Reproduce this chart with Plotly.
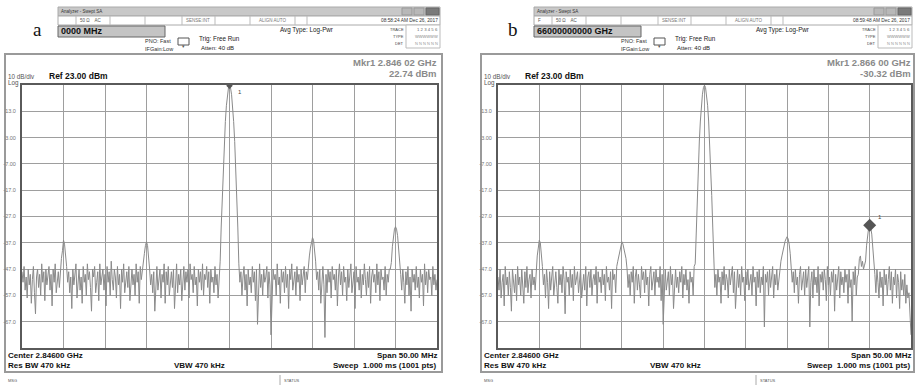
import plotly.graph_objects as go

W, H = 918, 385
SANS = "Liberation Sans, Arial, sans-serif"
SERIF = "Liberation Serif, Times New Roman, serif"

# ---------------- data ----------------
center_ghz = 2.846
offsets_mhz = [-25 + 0.125 * i for i in range(401)]
freq_ghz = [center_ghz + o / 1000 for o in offsets_mhz]

trace_a = [
    -48, -52, -46, -55, -50, -58, -47, -53, -49, -60, -51, -46, -56, -64, -50, -47, -54, -49, -57, -45,
    -52, -48, -59, -47, -53, -50, -46, -55, -49, -61, -47, -52, -45, -56, -50, -48, -54, -46, -43, -40,
    -36, -37.5, -41, -46, -52, -48, -56, -50, -62, -47, -53, -49, -45, -58, -51, -47, -55, -50, -60, -46,
    -52, -49, -57, -45, -51, -48, -54, -63, -47, -50, -46, -56, -52, -48, -59, -45, -53, -50, -47, -55,
    -49, -61, -46, -52, -48, -57, -44, -51, -55, -47, -50, -58, -46, -53, -49, -62, -47, -52, -45, -56,
    -50, -48, -54, -46, -59, -51, -47, -53, -49, -57, -45, -52, -48, -60, -46, -51, -47, -44, -41, -38,
    -36.6, -38, -42, -47, -53, -49, -56, -48, -63, -50, -46, -55, -51, -47, -58, -49, -52, -45, -60, -48,
    -53, -46, -57, -50, -48, -54, -47, -62, -51, -45, -56, -49, -53, -47, -59, -50, -46, -55, -48, -52,
    -47, -58, -45, -51, -49, -56, -46, -53, -50, -61, -47, -52, -48, -55, -45, -57, -49, -51, -46, -54,
    -48, -60, -47, -52, -50, -56, -46, -53, -49, -58, -51, -44, -31, -19, -7.8, 1.5, 9.1, 15.1, 19.3, 21.9,
    22.74,
    21.9, 19.3, 15.1, 9.1, 1.5, -7.8, -19, -31, -45, -52, -48, -57, -50, -46, -55, -49, -61, -47, -53,
    -50, -56, -46, -52, -48, -59, -47, -68, -51, -45, -54, -49, -57, -47, -52, -50, -46, -58, -48, -53,
    -72, -55, -47, -51, -49, -57, -45, -53, -50, -60, -47, -52, -48, -56, -46, -54, -49, -62, -47, -51,
    -45, -55, -50, -48, -57, -46, -52, -49, -59, -47, -53, -50, -46, -56, -48, -51, -45, -42, -39, -36.5,
    -35, -36, -39, -44, -51, -48, -55, -47, -60, -50, -46, -53, -73, -49, -56, -47, -52, -48, -58, -46,
    -51, -49, -55, -47, -61, -50, -45, -53, -48, -57, -46, -52, -50, -59, -47, -54, -49, -45, -56, -51,
    -48, -62, -46, -52, -50, -55, -47, -58, -49, -53, -45, -51, -57, -48, -54, -46, -60, -50, -47, -52,
    -49, -56, -45, -53, -48, -59, -47, -51, -50, -55, -46, -57, -49, -52, -47, -47, -44.5, -38.5, -34.3, -31.8,
    -30.9, -31.8, -34.3, -38.5, -44.5, -49, -55, -47, -52, -60, -48, -53, -46, -57, -50, -63, -47, -52, -49, -55,
    -46, -54, -50, -58, -47, -52, -49, -61, -45, -53, -48, -56, -47, -51, -50, -57, -46, -53, -49, -55,
    -51,
]

trace_b = [
    -50, -55, -47, -58, -52, -49, -61, -46, -53, -50, -57, -48, -54, -63, -47, -51, -56, -49, -59, -46,
    -53, -50, -57, -47, -52, -60, -48, -54, -46, -56, -51, -49, -58, -47, -53, -50, -55, -46, -42, -39,
    -36, -37, -41, -46, -53, -49, -58, -47, -52, -62, -48, -55, -50, -46, -57, -51, -48, -54, -60, -47,
    -53, -49, -56, -46, -51, -64, -48, -52, -50, -57, -47, -54, -49, -59, -46, -53, -51, -48, -56, -50,
    -47, -58, -52, -49, -55, -46, -61, -50, -48, -54, -47, -57, -51, -49, -53, -46, -60, -48, -52, -50,
    -56, -47, -53, -49, -59, -46, -52, -50, -55, -48, -62, -47, -51, -49, -56, -46, -44, -42, -40, -38,
    -36.6, -37.5, -39, -41, -43, -47, -54, -49, -57, -48, -52, -46, -60, -50, -47, -55, -49, -53, -58, -46,
    -51, -48, -56, -47, -53, -50, -61, -49, -46, -55, -51, -48, -57, -47, -52, -50, -54, -46, -59, -49,
    -68, -52, -47, -55, -50, -48, -57, -46, -53, -49, -62, -51, -47, -54, -50, -56, -48, -52, -46, -58,
    -49, -53, -47, -55, -51, -60, -48, -52, -50, -57, -46, -45, -31, -19, -7.6, 1.7, 9.3, 15.3, 19.5, 22.1,
    22.9,
    22.1, 19.5, 15.3, 9.3, 1.7, -7.6, -19, -31, -46, -54, -49, -57, -47, -52, -50, -60, -48, -53, -46,
    -55, -49, -51, -58, -47, -53, -50, -46, -56, -48, -62, -51, -47, -54, -49, -57, -46, -52, -50, -59,
    -48, -53, -47, -55, -51, -49, -57, -46, -52, -50, -61, -48, -54, -47, -56, -50, -53, -46, -69, -49,
    -52, -48, -57, -47, -54, -50, -46, -58, -49, -53, -47, -55, -51, -48, -44, -42, -40, -38, -36.5, -35.5,
    -34.7, -35.5, -37.5, -41, -46, -52, -48, -56, -47, -53, -50, -60, -49, -46, -55, -51, -48, -57, -47, -54,
    -50, -46, -69, -52, -48, -58, -47, -53, -50, -56, -46, -61, -49, -52, -48, -55, -47, -51, -59, -46,
    -53, -50, -57, -48, -52, -47, -63, -49, -55, -51, -46, -58, -48, -53, -50, -56, -47, -52, -49, -60,
    -47, -54, -51, -67, -48, -53, -46, -57, -50, -49, -43, -42, -46, -44, -47, -45.5, -43.9, -37.9, -33.7, -31.2,
    -30.32, -31.2, -33.7, -37.9, -43.9, -49, -56, -47, -52, -58, -48, -54, -50, -61, -47, -53, -49, -57, -51, -46,
    -55, -48, -60, -50, -53, -47, -58, -49, -52, -62, -48, -55, -51, -57, -49, -60, -53, -58, -56, -66,
    -72,
]
assert len(trace_a) == 401 and len(trace_b) == 401

y_tick_vals = [13, 3, -7, -17, -27, -37, -47, -57, -67]
y_tick_text = ["13.0", "3.00", "-7.00", "-17.0", "-27.0", "-37.0", "-47.0", "-57.0", "-67.0"]
x_grid_ghz = [2.826, 2.831, 2.836, 2.841, 2.846, 2.851, 2.856, 2.861, 2.866]

panel_labels = ["a", "b"]
freq_boxes = ["0000 MHz", "66000000000 GHz"]
timestamps = ["08:58:24 AM Dec 26, 2017", "08:59:48 AM Dec 26, 2017"]
marker_freq = ["Mkr1 2.846 02 GHz", "Mkr1 2.866 00 GHz"]
marker_level = ["22.74 dBm", "-30.32 dBm"]
marker_x = [2.846, 2.866]
marker_y = [22.74, -30.32]
status_first = ["", "F"]

# ---------------- figure ----------------
fig = go.Figure()
annotations = []
shapes = []


def px(x):
    return x / W


def py(y):
    return 1 - y / H


def txt(x, y, s, size, color="#222", anchor="left", family=SANS, yanchor="middle"):
    annotations.append(dict(x=px(x), y=py(y), xref="paper", yref="paper", text=s,
                            showarrow=False, xanchor=anchor, yanchor=yanchor,
                            font=dict(size=size, color=color, family=family),
                            borderpad=0))


def rect(x0, y0, x1, y1, fill="rgba(0,0,0,0)", line="#888", lw=1):
    shapes.append(dict(type="rect", xref="paper", yref="paper",
                       x0=px(x0), x1=px(x1), y0=py(y1), y1=py(y0),
                       fillcolor=fill, line=dict(color=line, width=lw), layer="below"))


def vline(x, y0, y1, color="#888", lw=1):
    shapes.append(dict(type="line", xref="paper", yref="paper",
                       x0=px(x), x1=px(x), y0=py(y0), y1=py(y1),
                       line=dict(color=color, width=lw)))


plot_x = [(22, 437), (498, 911)]
plot_top, plot_bot = 85, 348
frames = [(5, 442), (481, 914)]
offsets = [0, 476]
traces = [trace_a, trace_b]

for k in range(2):
    dx = offsets[k]
    L, R = frames[k]
    xa = "x" if k == 0 else "x2"
    ya = "y" if k == 0 else "y2"
    fig.add_trace(go.Scatter(x=freq_ghz, y=traces[k], mode="lines",
                             line=dict(color="#8a8a8a", width=1),
                             xaxis=xa, yaxis=ya, showlegend=False, hoverinfo="skip"))
    fig.add_trace(go.Scatter(x=[marker_x[k]], y=[marker_y[k]], mode="markers",
                             marker=dict(symbol="diamond", size=10 if k == 1 else 5,
                                         color="#555"),
                             xaxis=xa, yaxis=ya, showlegend=False, hoverinfo="skip"))
    label_dy = 3 if k == 1 else -2.5
    annotations.append(dict(x=marker_x[k] + 0.0008, y=marker_y[k] + label_dy, xref=xa, yref=ya,
                            text="1", showarrow=False, xanchor="left",
                            font=dict(size=6, color="#444", family=SANS)))

    # panel letter
    txt(37 + dx, 29, panel_labels[k], 19, "#111", "center", SERIF)
    # title bar
    rect(58 + dx, 7, R - 2, 16, "#c8c8c8", "#aaaaaa")
    txt(60 + dx, 11.5, "Analyzer - Swept SA", 4.5, "#333")
    rect(R - 40, 8, R - 30, 15, "#b8b8b8", "#999")
    rect(R - 28, 8, R - 18, 15, "#b8b8b8", "#999")
    rect(R - 16, 8, R - 3, 15, "#7a7a7a", "#666")
    # status row
    rect(58 + dx, 16, R - 2, 25, "#ffffff", "#aaaaaa")
    for sx in [76, 110, 145, 182, 215, 250, 295, 307]:
        vline(sx + dx, 16, 25, "#bbbbbb")
    if status_first[k]:
        txt(61 + dx, 20.5, status_first[k], 4.5, "#555")
    txt(79 + dx, 20.5, "50 \u03a9&nbsp;&nbsp;&nbsp;&nbsp;AC", 4.5, "#555")
    txt(198 + dx, 20.5, "SENSE:INT", 4.5, "#777", "center")
    txt(272 + dx, 20.5, "ALIGN AUTO", 4.5, "#777", "center")
    txt(R - 3, 20.5, timestamps[k], 4.8, "#333", "right")
    # frequency box
    rect(58 + dx, 26, 165 + dx, 37, "#c4c4c4", "#666", 1)
    txt(60 + dx, 31.5, "<b>" + freq_boxes[k] + "</b>", 9, "#111")
    # PNO / IF gain
    txt(172 + dx, 41, "PNO: Fast", 5.5, "#333", "right")
    txt(174 + dx, 49, "IFGain:Low", 5.5, "#333", "right")
    rect(178 + dx, 38, 189 + dx, 45, "#ffffff", "#555", 1)
    txt(183.5 + dx, 46.5, "\u25be", 5, "#555", "center")
    txt(198 + dx, 39.5, "Trig: Free Run", 6.3, "#222")
    txt(200 + dx, 48.5, "Atten: 40 dB", 6, "#222")
    txt(279 + dx, 30, "Avg Type: Log-Pwr", 6.3, "#222")
    # trace block
    rect(R - 36, 25, R - 2, 48, "#ffffff", "#bbbbbb")
    txt(R - 37, 29, "TRACE", 4, "#444", "right")
    txt(R - 37, 36.5, "TYPE", 4, "#444", "right")
    txt(R - 37, 43.5, "DET", 4, "#444", "right")
    txt(R - 3, 29, "1&nbsp;2&nbsp;3&nbsp;4&nbsp;5&nbsp;6", 4.3, "#666", "right")
    txt(R - 3, 36.5, "WWWWWW", 4, "#888", "right")
    txt(R - 3, 43.5, "N&nbsp;N&nbsp;N&nbsp;N&nbsp;N&nbsp;N", 4, "#999", "right")
    # main frame
    rect(L, 54, R, 372, "rgba(0,0,0,0)", "#9a9a9a", 2)
    txt(L + 2, 76.5, "10 dB/div", 6.3, "#555")
    txt(L + 2, 82.5, "Log", 6.3, "#555")
    txt(48 + dx, 76, "<b>Ref 23.00 dBm</b>", 8.5, "#111")
    px_right = plot_x[k][1]
    txt(px_right + 1, 62, "<b>" + marker_freq[k] + "</b>", 9.5, "#8a8a8a", "right")
    txt(px_right + 1, 73.5, "<b>" + marker_level[k] + "</b>", 9.5, "#8a8a8a", "right")
    # bottom texts
    txt(L + 2, 355.5, "<b>Center 2.84600 GHz</b>", 8, "#111")
    txt(L + 2, 365, "<b>Res BW 470 kHz</b>", 8, "#111")
    txt(173 + dx, 365, "<b>VBW 470 kHz</b>", 8, "#111")
    txt(px_right + 1, 355.5, "<b>Span 50.00 MHz</b>", 8, "#111", "right")
    txt(px_right + 1, 365, "<b>Sweep&nbsp;&nbsp;1.000 ms (1001 pts)</b>", 8, "#111", "right")
    # message row
    txt(L + 2, 380, "MSG", 4, "#555")
    vline(280 + dx, 375, 385, "#aaaaaa")
    txt(283 + dx, 380, "STATUS", 4, "#555")

axis_common_x = dict(range=[2.821, 2.871], tickvals=x_grid_ghz, showticklabels=False,
                     showgrid=True, gridcolor="#9e9e9e", gridwidth=1, zeroline=False,
                     showline=True, mirror=True, linecolor="#5a5a5a", linewidth=2,
                     ticks="", fixedrange=True)
axis_common_y = dict(range=[-77, 23], tickvals=y_tick_vals, ticktext=y_tick_text,
                     showgrid=True, gridcolor="#9e9e9e", gridwidth=1, zeroline=False,
                     showline=True, mirror=True, linecolor="#5a5a5a", linewidth=2,
                     ticks="", ticklabelstandoff=3,
                     tickfont=dict(size=5.5, color="#777", family=SANS), fixedrange=True)

fig.update_layout(
    width=W, height=H, autosize=False,
    margin=dict(l=0, r=0, t=0, b=0),
    paper_bgcolor="white", plot_bgcolor="white",
    xaxis=dict(domain=[px(plot_x[0][0]), px(plot_x[0][1])], anchor="y", **axis_common_x),
    yaxis=dict(domain=[py(plot_bot), py(plot_top)], anchor="x", **axis_common_y),
    xaxis2=dict(domain=[px(plot_x[1][0]), px(plot_x[1][1])], anchor="y2", **axis_common_x),
    yaxis2=dict(domain=[py(plot_bot), py(plot_top)], anchor="x2", **axis_common_y),
    annotations=annotations,
    shapes=shapes,
    showlegend=False,
)

fig.write_html("out.html", config={"displayModeBar": False, "staticPlot": True},
               post_script="document.body.style.margin='0';document.body.style.padding='0';"
                           "document.body.style.overflow='hidden';")
